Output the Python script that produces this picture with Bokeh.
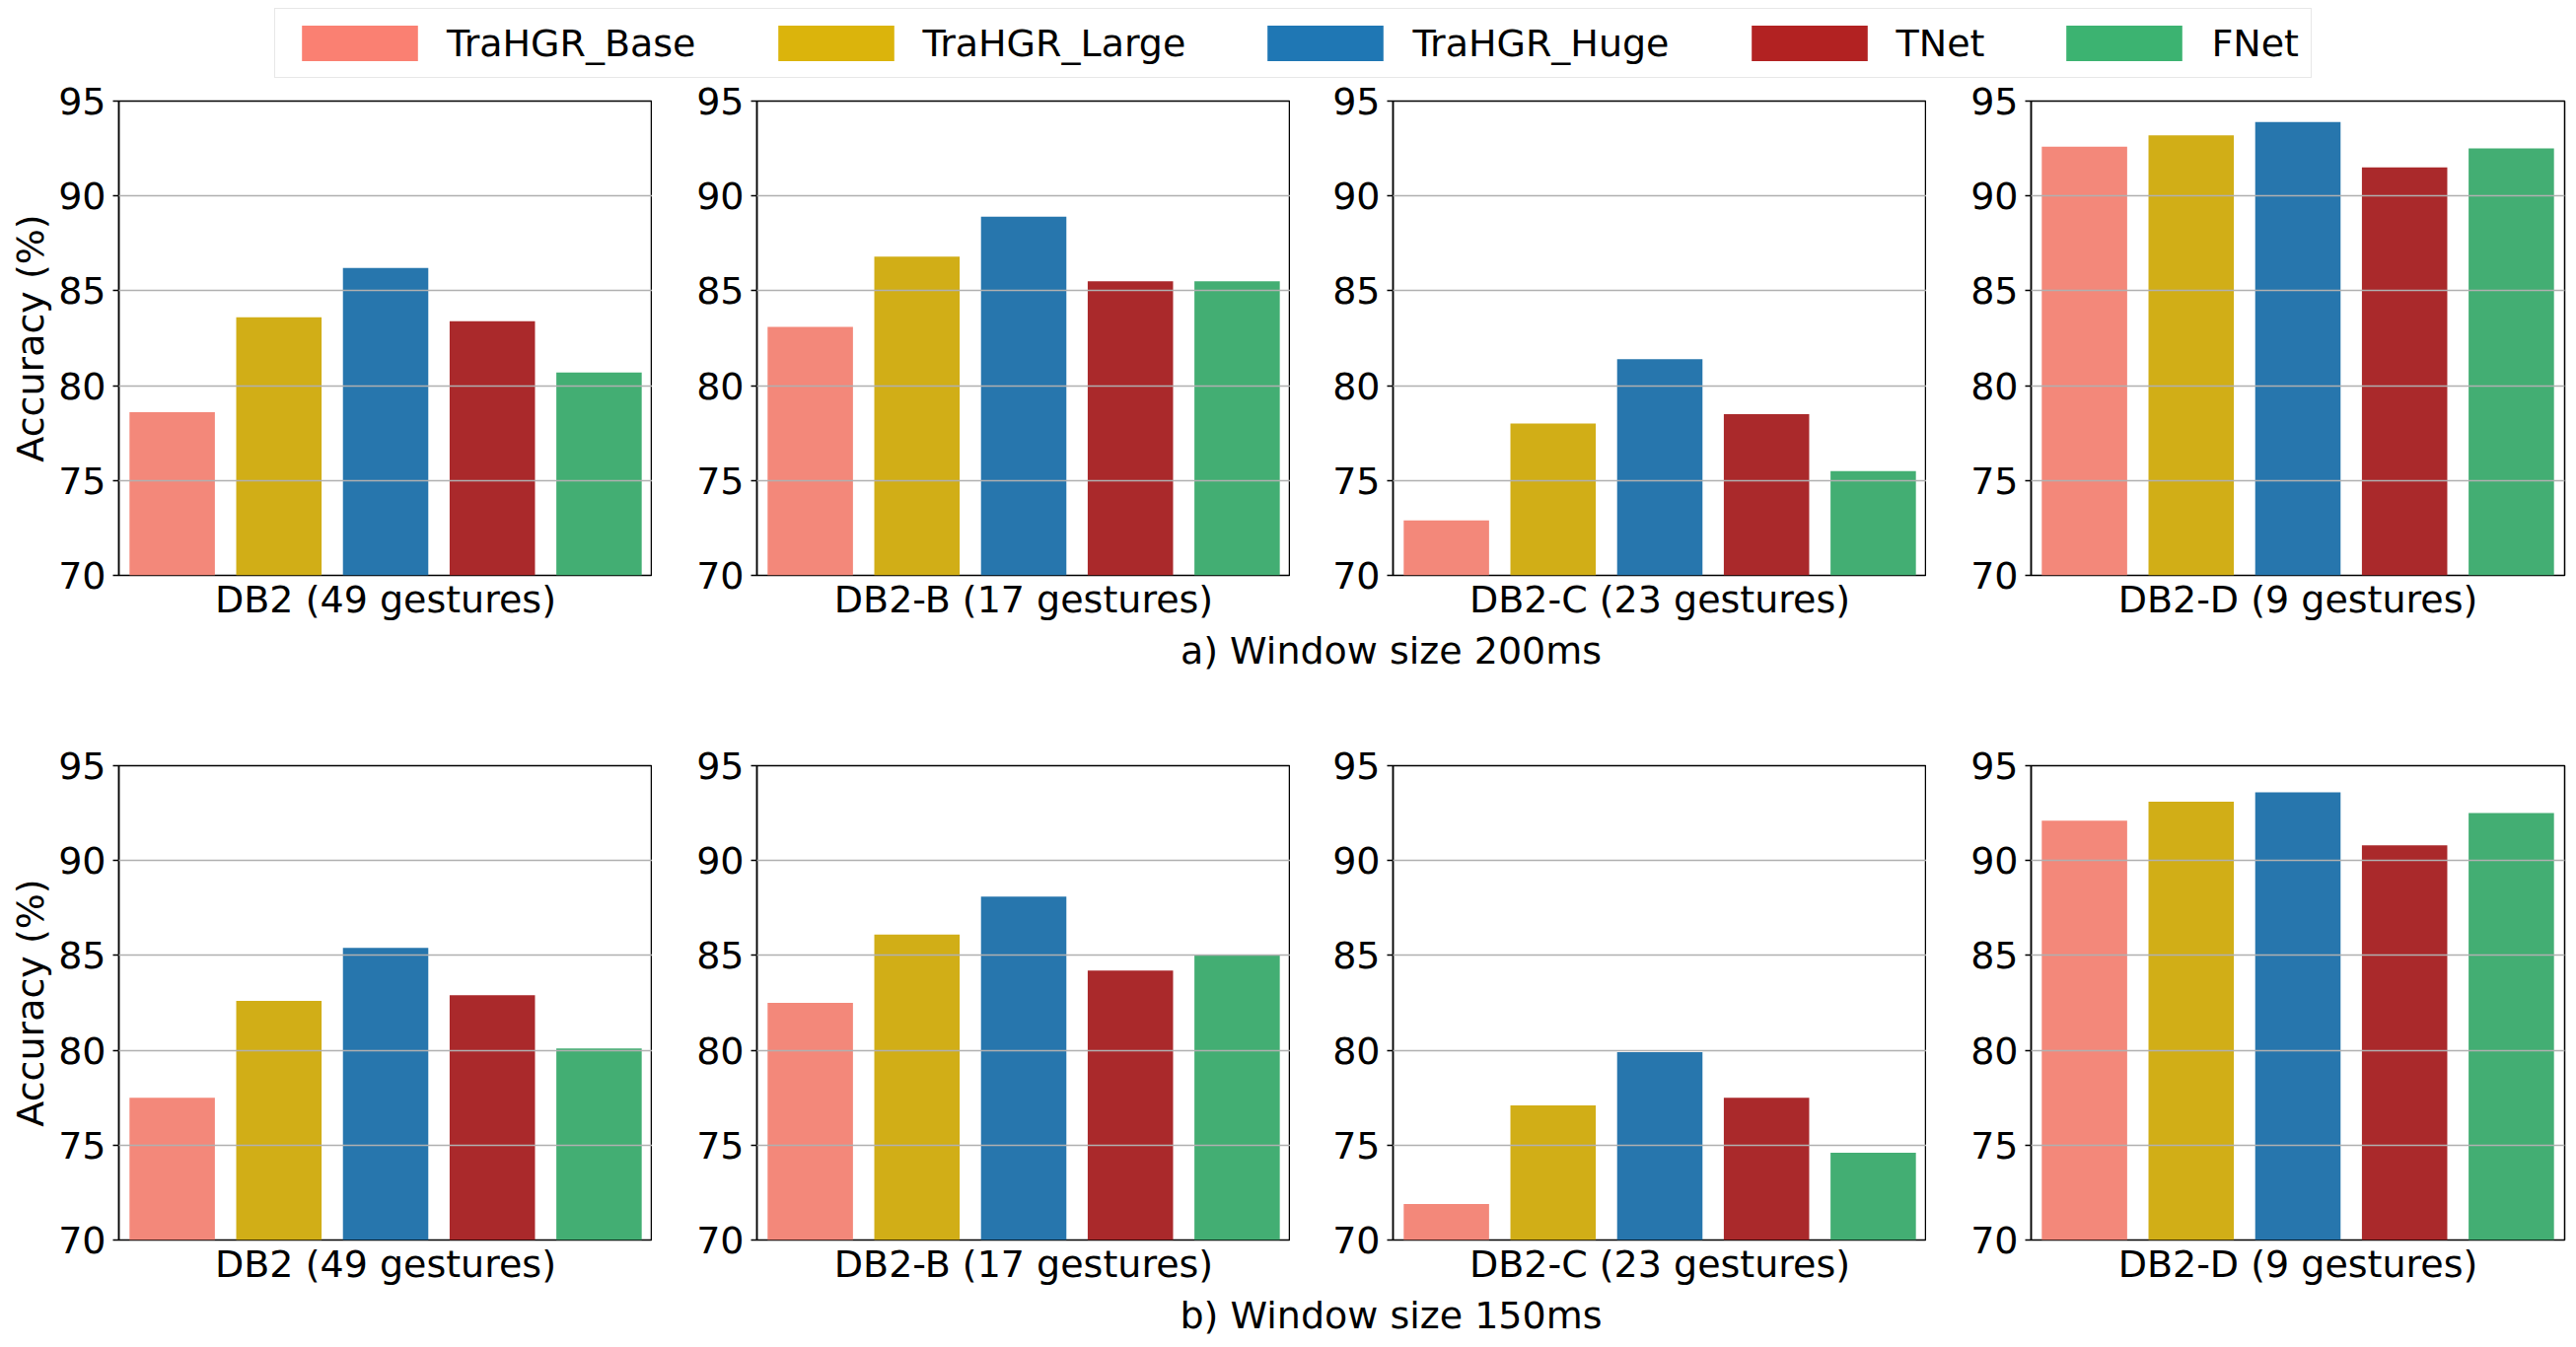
from bokeh.plotting import figure
from bokeh.models import (Range1d, FactorRange, FixedTicker, Legend, LegendItem,
                          Label, ColumnDataSource)
from bokeh.layouts import row, column
from bokeh.embed import file_html
from bokeh.resources import INLINE

FONT = "DejaVu Sans"

# ---------------- data ----------------
models = ["TraHGR_Base", "TraHGR_Large", "TraHGR_Huge", "TNet", "FNet"]
datasets = ["DB2 (49 gestures)", "DB2-B (17 gestures)",
            "DB2-C (23 gestures)", "DB2-D (9 gestures)"]

# a) window size 200 ms
acc200_db2 = [78.6, 83.6, 86.2, 83.4, 80.7]
acc200_db2b = [83.1, 86.8, 88.9, 85.5, 85.5]
acc200_db2c = [72.9, 78.0, 81.4, 78.5, 75.5]
acc200_db2d = [92.6, 93.2, 93.9, 91.5, 92.5]

# b) window size 150 ms
acc150_db2 = [77.5, 82.6, 85.4, 82.9, 80.1]
acc150_db2b = [82.5, 86.1, 88.1, 84.2, 85.0]
acc150_db2c = [71.9, 77.1, 79.9, 77.5, 74.6]
acc150_db2d = [92.1, 93.1, 93.6, 90.8, 92.5]

y_ticks = [70, 75, 80, 85, 90, 95]
subtitles = ["a) Window size 200ms", "b) Window size 150ms"]
y_label = "Accuracy (%)"

# ---------------- styles ----------------
bar_colors = ["#F3887A", "#D1AE17", "#2776AD", "#AA292B", "#43AE73"]
legend_colors = ["#FA8072", "#DBB40C", "#1F77B4", "#B22222", "#3CB371"]
TOTAL_W = 2608
FRAME_W = 541
FRAME_H = 481
TOP_B = 22
BOT_B = 50
FS = "38px"


def panel(name, vals, left_border, show_ylabel, right_border=0):
    p = figure(x_range=FactorRange(factors=models, range_padding=0),
               y_range=Range1d(y_ticks[0], y_ticks[-1]),
               frame_width=FRAME_W, frame_height=FRAME_H,
               min_border_left=left_border, min_border_right=right_border,
               min_border_top=TOP_B, min_border_bottom=BOT_B,
               x_axis_location=None, toolbar_location=None,
               output_backend="svg", title=name, title_location="below")
    src = ColumnDataSource(dict(model=models, acc=vals, color=bar_colors))
    p.vbar(x="model", top="acc", bottom=y_ticks[0], width=0.8,
           fill_color="color", line_color=None, source=src)
    p.title.align = "center"
    p.title.text_font = FONT
    p.title.text_font_size = FS
    p.title.text_font_style = "normal"
    p.title.text_color = "black"
    p.title.standoff = 0

    ax = p.yaxis[0]
    ax.ticker = FixedTicker(ticks=y_ticks)
    ax.major_label_text_font = FONT
    ax.major_label_text_font_size = FS
    ax.major_label_text_color = "black"
    ax.major_label_standoff = 7
    ax.major_tick_out = 6
    ax.major_tick_in = 0
    ax.major_tick_line_color = "black"
    ax.major_tick_line_width = 1.5
    ax.minor_tick_line_color = None
    ax.axis_line_color = "black"
    ax.axis_line_width = 1.5
    if show_ylabel:
        ax.axis_label = y_label
        ax.axis_label_text_font = FONT
        ax.axis_label_text_font_size = FS
        ax.axis_label_text_font_style = "normal"
        ax.axis_label_text_color = "black"
        ax.axis_label_standoff = 3

    p.xgrid.visible = False
    p.ygrid.ticker = FixedTicker(ticks=y_ticks[1:-1])
    p.ygrid.grid_line_color = "#b0b0b0"
    p.ygrid.grid_line_width = 1.5
    p.ygrid.level = "overlay"
    p.outline_line_color = "black"
    p.outline_line_width = 1.5
    p.background_fill_color = "white"
    p.border_fill_color = "white"
    return p


def panel_row(vals_list):
    borders = [120, 106, 104, 106]
    figs = []
    for i, (name, vals) in enumerate(zip(datasets, vals_list)):
        figs.append(panel(name, vals, borders[i], i == 0,
                          right_border=8 if i == 3 else 0))
    return row(*figs, spacing=0)


def subtitle_fig(text, h, center_from_top):
    s = figure(width=TOTAL_W, height=h, x_range=Range1d(0, TOTAL_W),
               y_range=Range1d(0, h), min_border=0, title=None,
               x_axis_location=None, y_axis_location=None,
               toolbar_location=None, output_backend="svg")
    s.grid.visible = False
    s.outline_line_color = None
    s.add_layout(Label(x=1410, y=h - center_from_top, text=text,
                       text_align="center", text_baseline="middle",
                       text_font=FONT, text_font_size=FS, text_color="black"))
    return s


# legend figure
LEG_H = 80
lf = figure(width=TOTAL_W, height=LEG_H, x_range=Range1d(0, 1), y_range=Range1d(0, 1),
            min_border=0, title=None, x_axis_location=None, y_axis_location=None,
            toolbar_location=None, output_backend="svg")
lf.grid.visible = False
lf.outline_line_color = None
items = []
for m, c in zip(models, legend_colors):
    # a single off-screen bar per model: only its legend swatch is visible
    r = lf.vbar(x=[10], top=[10], bottom=[9], width=0.8, fill_color=c, line_color=None)
    items.append(LegendItem(label=m, renderers=[r]))
leg = Legend(items=items, orientation="horizontal", location=(278, 1),
             glyph_width=147, glyph_height=45, label_standoff=15, spacing=68,
             padding=12, label_height=45,
             label_text_font=FONT, label_text_font_size=FS,
             label_text_color="black", label_text_baseline="middle",
             border_line_color="#d0d0d0", border_line_width=1.5,
             background_fill_color="white", background_fill_alpha=1)
lf.add_layout(leg)

row1 = panel_row([acc200_db2, acc200_db2b, acc200_db2c, acc200_db2d])
sub1 = subtitle_fig(subtitles[0], 121, 26)
row2 = panel_row([acc150_db2, acc150_db2b, acc150_db2c, acc150_db2d])
sub2 = subtitle_fig(subtitles[1], 52, 26)

layout = column(lf, row1, sub1, row2, sub2, spacing=0)
open("out.html", "w").write(file_html(layout, INLINE))
